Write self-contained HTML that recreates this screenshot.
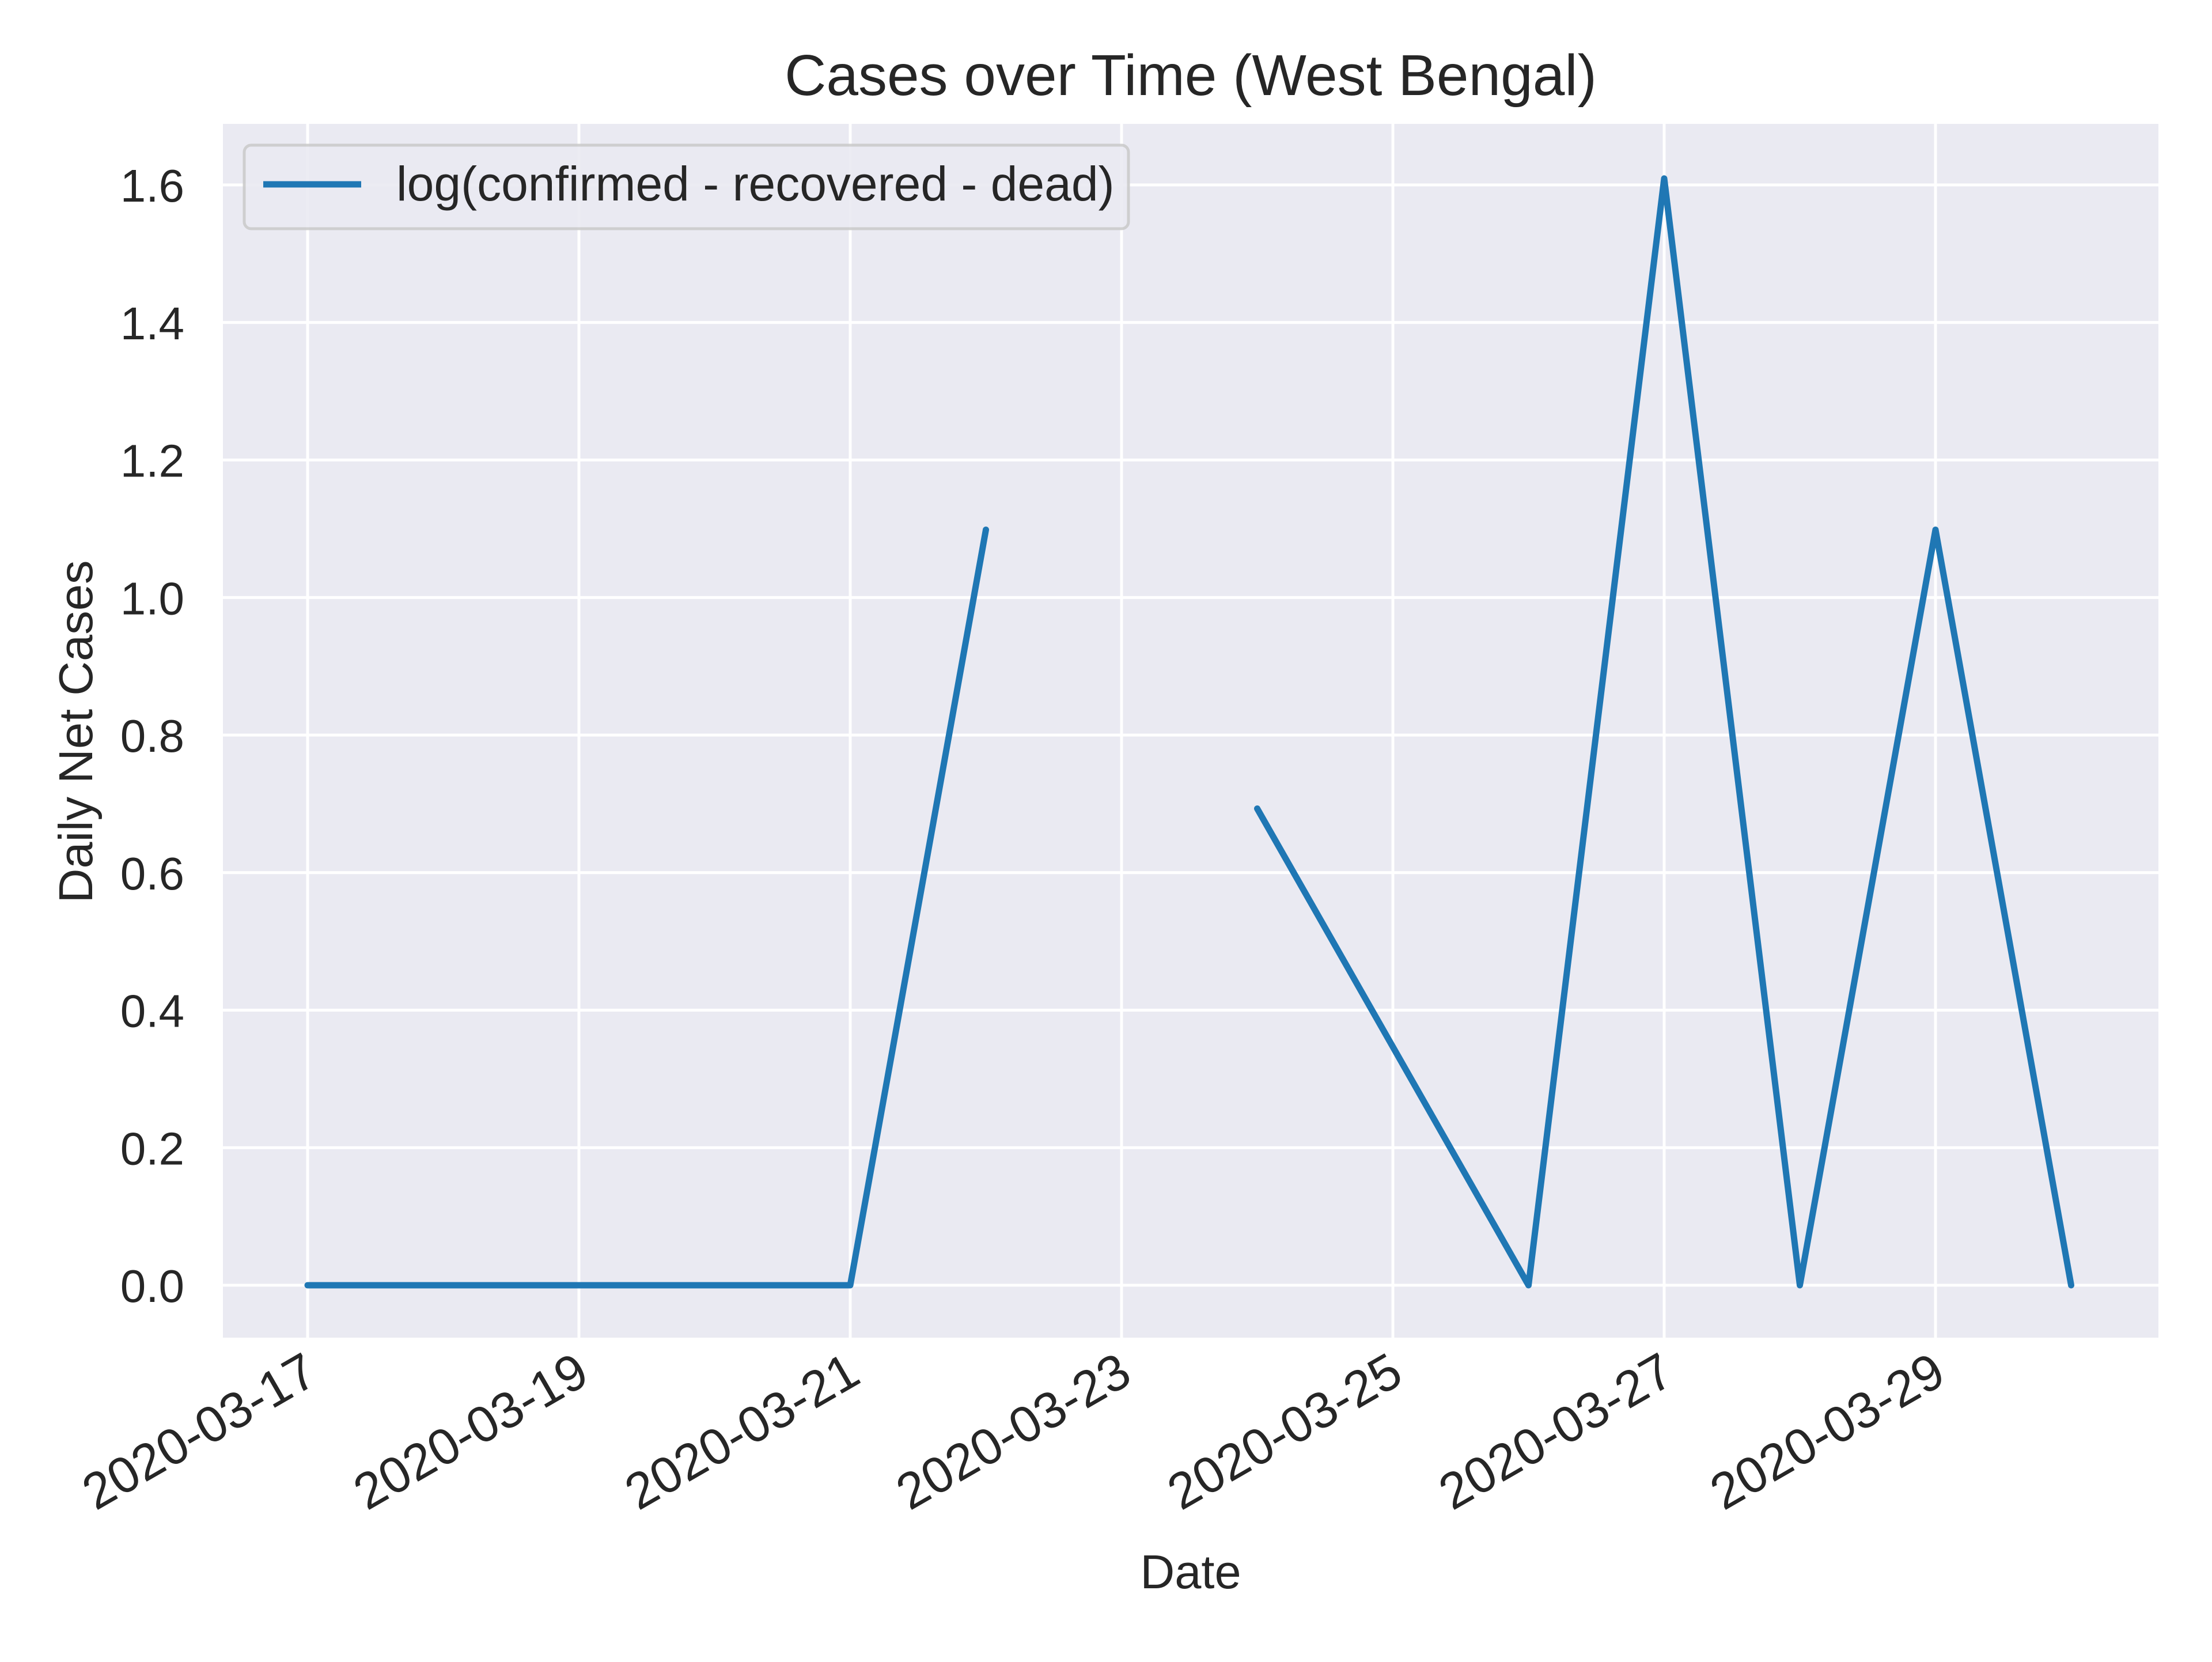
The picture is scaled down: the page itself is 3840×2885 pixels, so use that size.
<!DOCTYPE html>
<html><head><meta charset="utf-8"><style>
body{margin:0;background:#fff;}
svg text{font-family:"Liberation Sans",Arial,sans-serif;fill:#262626;}
</style></head><body>
<svg id="chart" width="3840" height="2880" xmlns="http://www.w3.org/2000/svg">
<rect width="3840" height="2880" fill="#fff"/>
<rect x="387" y="215" width="3360" height="2107" fill="#EAEAF2"/>
<g id="grid"></g>
<g id="xticks"></g>
<g id="yticks"></g>
<g id="series"></g>
<text x="2067" y="165" font-size="100" text-anchor="middle">Cases over Time (West Bengal)</text>
<text x="2067" y="2757" font-size="83" text-anchor="middle">Date</text>
<text x="160" y="1270" font-size="83" text-anchor="middle" transform="rotate(-90 160 1270)">Daily Net Cases</text>
<g>
<rect x="424" y="252" width="1535" height="145" rx="12" fill="#EAEAF2" stroke="#cccccc" stroke-width="5" opacity="0.9"/>
<line x1="457" y1="320" x2="627" y2="320" stroke="#1f77b4" stroke-width="11"/>
<text x="688" y="348" font-size="84">log(confirmed - recovered - dead)</text>
</g>
</svg>
<script>
const days=[17,18,19,20,21,22,23,24,25,26,27,28,29,30];
const values=[0,0,0,0,0,1.0986,null,0.6931,0.3466,0,1.6094,0,1.0986,0];
const yTicks=[0,0.2,0.4,0.6,0.8,1.0,1.2,1.4,1.6];
const yTickLabels=["0.0","0.2","0.4","0.6","0.8","1.0","1.2","1.4","1.6"];
const xTickDays=[17,19,21,23,25,27,29];
const xTickLabels=["2020-03-17","2020-03-19","2020-03-21","2020-03-23","2020-03-25","2020-03-27","2020-03-29"];
const NS="http://www.w3.org/2000/svg";
function xs(d){return 534+(d-17)*235.5;}
function ys(v){return 2231-v*1193.75;}
const grid=document.getElementById('grid'),xt=document.getElementById('xticks'),yt=document.getElementById('yticks'),ser=document.getElementById('series');
function mk(tag,attrs,parent){const e=document.createElementNS(NS,tag);for(const k in attrs)e.setAttribute(k,attrs[k]);parent.appendChild(e);return e;}
yTicks.forEach((v,i)=>{
 const l=mk('line',{x1:387,x2:3747,y1:ys(v),y2:ys(v),stroke:'#fff','stroke-width':5},grid);
 
 
 const t=mk('text',{x:320,y:ys(v)+29,'font-size':80,'text-anchor':'end'},yt);
 t.textContent=yTickLabels[i];
 
 
});
xTickDays.forEach((d,i)=>{
 const l=mk('line',{x1:xs(d),x2:xs(d),y1:215,y2:2322,stroke:'#fff','stroke-width':5},grid);
 
 
 const x=xs(d)+22,y=2398;
 const t=mk('text',{x:x,y:y,'font-size':88,'text-anchor':'end',transform:`rotate(-30 ${x} ${y})`},xt);
 t.textContent=xTickLabels[i];
 
 
});
let segs=[],cur=[];
days.forEach((d,i)=>{if(values[i]===null){if(cur.length)segs.push(cur);cur=[];}else cur.push(xs(d)+','+ys(values[i]));});
if(cur.length)segs.push(cur);
segs.forEach(s=>{
 const p=mk('polyline',{points:s.join(' '),fill:'none',stroke:'#1f77b4','stroke-width':11,'stroke-linejoin':'round','stroke-linecap':'round'},ser);
 
 
});
</script>
</body></html>
